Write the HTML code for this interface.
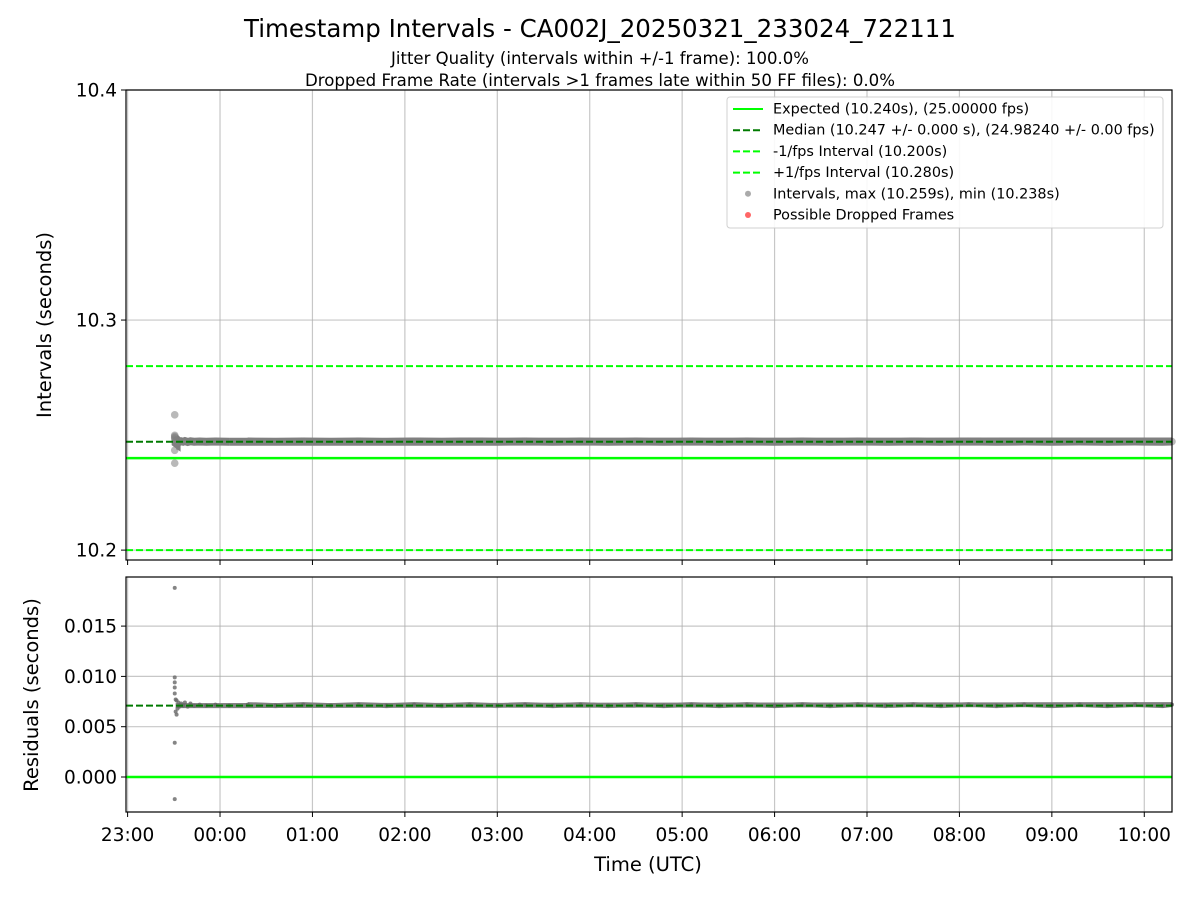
<!DOCTYPE html>
<html><head><meta charset="utf-8"><style>
body{margin:0;background:#fff;font-family:"Liberation Sans","DejaVu Sans",sans-serif}
svg text{font-family:"DejaVu Sans","Liberation Sans",sans-serif}
</style></head><body>
<svg id="c" width="1200" height="900" xmlns="http://www.w3.org/2000/svg"></svg>
<script>
const xTickLabels=["23:00","00:00","01:00","02:00","03:00","04:00","05:00","06:00","07:00","08:00","09:00","10:00"];
const topTicks=[10.2,10.3,10.4];
const botTicks=[0.000,0.005,0.010,0.015];
const expected=10.240, median=10.2471, lowLim=10.200, highLim=10.280;
// times in hours since 23:00
const earlyTimes=[0.51,0.51,0.51,0.51,0.51,0.51,0.51,0.52,0.52,0.53,0.53,0.54,0.55,0.56,0.58,0.6,0.62,0.65,0.68,0.72,0.78,0.85,0.95,1.1];
const earlyVals=[10.2588,10.2499,10.2494,10.2489,10.2483,10.2434,10.2378,10.2477,10.2465,10.2462,10.2476,10.2468,10.2474,10.2470,10.2473,10.2471,10.2474,10.2470,10.2473,10.2471,10.2472,10.2471,10.2472,10.2471];
const bandTimes=[1.3,1.6,1.9,2.2,2.5,2.8,3.1,3.4,3.7,4.0,4.3,4.6,4.9,5.2,5.5,5.8,6.1,6.4,6.7,7.0,7.3,7.6,7.9,8.2,8.5,8.8,9.1,9.4,9.7,10.0,10.3,10.6,10.9,11.2,11.3];
const bandVals=[10.2472,10.2471,10.2472,10.2471,10.2472,10.2471,10.2472,10.2471,10.2472,10.2471,10.2472,10.2471,10.2472,10.2471,10.2472,10.2471,10.2472,10.2471,10.2472,10.2471,10.2472,10.2471,10.2472,10.2471,10.2472,10.2471,10.2472,10.2471,10.2472,10.2471,10.2472,10.2471,10.2472,10.2471,10.2472];

const NS="http://www.w3.org/2000/svg", svg=document.getElementById('c');
function mk(t,a,p,name){const e=document.createElementNS(NS,t);for(const k in a)e.setAttribute(k,a[k]);


(p||svg).appendChild(e);return e;}
function txt(s,x,y,size,anchor,name,extra){const e=mk('text',Object.assign({x:x,y:y,'font-size':size,'text-anchor':anchor||'middle',fill:'#000'},extra||{}),null,name);e.textContent=s;return e;}
const L=126,R=1172;
const xmin=-0.0173,xmax=11.3;
const X=h=>L+(h-xmin)/(xmax-xmin)*(R-L);
const T0=90,T1=560,ymaxT=10.4,yminT=10.1957;
const YT=v=>T0+(ymaxT-v)/(ymaxT-yminT)*(T1-T0);
const B0=577,B1=812;
const YB=v=>777-v*10060;

txt("Timestamp Intervals - CA002J_20250321_233024_722111",600,37,24.5,'middle','chart-title');
txt("Jitter Quality (intervals within +/-1 frame): 100.0%",600,64,16.5,'middle','jitter-subtitle',{textLength:418,lengthAdjust:'spacingAndGlyphs'});
txt("Dropped Frame Rate (intervals >1 frames late within 50 FF files): 0.0%",600,86,16.5,'middle','dropped-subtitle',{textLength:590,lengthAdjust:'spacingAndGlyphs'});

function panel(y0,y1,name){
  const g=mk('g',{},null,name);
  mk('rect',{x:L,y:y0,width:R-L,height:y1-y0,fill:'#fff'},g,name+'-bg');
  xTickLabels.forEach((s,i)=>{mk('line',{x1:X(i),x2:X(i),y1:y0,y2:y1,stroke:'#b0b0b0','stroke-width':1.2,opacity:0.7},g,'x-gridline');
    mk('line',{x1:X(i),x2:X(i),y1:y1,y2:y1+5,stroke:'#000'},g,'x-tick');});
  return g;
}
const gT=panel(T0,T1,'intervals-panel');
topTicks.forEach(v=>{mk('line',{x1:L,x2:R,y1:YT(v),y2:YT(v),stroke:'#b0b0b0','stroke-width':1.2,opacity:0.7},gT,'y-gridline');
  mk('line',{x1:L-5,x2:L,y1:YT(v),y2:YT(v),stroke:'#000'},gT,'y-tick');
  txt(v.toFixed(1),L-9,YT(v)+6.5,18.5,'end','y-tick-label');});
mk('line',{x1:L,x2:R,y1:YT(highLim),y2:YT(highLim),stroke:'#00ff00','stroke-width':2,'stroke-dasharray':'7,3'},gT,'plus-fps-line');
mk('line',{x1:L,x2:R,y1:YT(lowLim),y2:YT(lowLim),stroke:'#00ff00','stroke-width':2,'stroke-dasharray':'7,3'},gT,'minus-fps-line');
mk('line',{x1:L,x2:R,y1:YT(expected),y2:YT(expected),stroke:'#00ff00','stroke-width':2.5},gT,'expected-line');
const allT=earlyTimes.concat(bandTimes), allV=earlyVals.concat(bandVals);
mk('polyline',{points:bandTimes.map((t,i)=>X(t)+','+YT(bandVals[i])).join(' ')+' '+X(earlyTimes[earlyTimes.length-1])+','+YT(median),fill:'none',stroke:'#808080','stroke-width':8},gT,'interval-band');
mk('polyline',{points:earlyTimes.slice(7).map((t,i)=>X(t)+','+YT(earlyVals[i+7])).join(' '),fill:'none',stroke:'#808080','stroke-width':8},gT,'interval-band-early');
allT.forEach((t,i)=>mk('circle',{cx:X(t),cy:YT(allV[i]),r:3.8,fill:'#808080',opacity:0.55},gT,'interval-point'));
mk('line',{x1:L,x2:R,y1:YT(median),y2:YT(median),stroke:'#007a00','stroke-width':2,'stroke-dasharray':'7,3'},gT,'median-line');
mk('rect',{x:L,y:T0,width:R-L,height:T1-T0,fill:'none',stroke:'#000','stroke-width':1.2},gT,'intervals-frame');

const gB=panel(B0,B1,'residuals-panel');
botTicks.forEach(v=>{mk('line',{x1:L,x2:R,y1:YB(v),y2:YB(v),stroke:'#b0b0b0','stroke-width':1.2,opacity:0.7},gB,'y-gridline');
  mk('line',{x1:L-5,x2:L,y1:YB(v),y2:YB(v),stroke:'#000'},gB,'y-tick');
  txt(v.toFixed(3),L-9,YB(v)+6.5,18.5,'end','y-tick-label');});
mk('line',{x1:L,x2:R,y1:YB(0),y2:YB(0),stroke:'#00ff00','stroke-width':2.5},gB,'zero-line');
mk('polyline',{points:bandTimes.map((t,i)=>X(t)+','+YB(bandVals[i]-expected)).join(' ')+' '+X(earlyTimes[7])+','+YB(median-expected),fill:'none',stroke:'#808080','stroke-width':5},gB,'residual-band');
allT.forEach((t,i)=>mk('circle',{cx:X(t),cy:YB(allV[i]-expected),r:2,fill:'#666',opacity:0.8},gB,'residual-point'));
mk('line',{x1:L,x2:R,y1:YB(median-expected),y2:YB(median-expected),stroke:'#007a00','stroke-width':2,'stroke-dasharray':'7,3'},gB,'median-residual-line');
mk('rect',{x:L,y:B0,width:R-L,height:B1-B0,fill:'none',stroke:'#000','stroke-width':1.2},gB,'residuals-frame');
xTickLabels.forEach((s,i)=>txt(s,X(i),B1+29,18.5,'middle','x-tick-label'));
txt("Time (UTC)",648,871,19.5,'middle','x-axis-title');
txt("Intervals (seconds)",51,325,19.5,'middle','y-axis-title-top',{transform:'rotate(-90 51 325)'});
txt("Residuals (seconds)",38,695,19.5,'middle','y-axis-title-bottom',{transform:'rotate(-90 38 695)'});

// legend
const lg=mk('g',{},null,'legend');
mk('rect',{x:727,y:97,width:436,height:131,rx:3,fill:'#fff',stroke:'#ccc',opacity:0.9},lg,'legend-box');
const items=[["Expected (10.240s), (25.00000 fps)",'solid','#00ff00'],["Median (10.247 +/- 0.000 s), (24.98240 +/- 0.00 fps)",'dash','#007a00'],["-1/fps Interval (10.200s)",'dash','#00ff00'],["+1/fps Interval (10.280s)",'dash','#00ff00'],["Intervals, max (10.259s), min (10.238s)",'dot','#aaa'],["Possible Dropped Frames",'dot','#ff6666']];
items.forEach((it,i)=>{const y=109+i*21.2;
  if(it[1]==='dot')mk('circle',{cx:748,cy:y,r:3,fill:it[2]},lg,'legend-marker');
  else mk('line',{x1:733,x2:763,y1:y,y2:y,stroke:it[2],'stroke-width':2,'stroke-dasharray':it[1]==='dash'?'7,3':'none'},lg,'legend-line');
  txt(it[0],773,y+4.5,14.4,'start','legend-entry');});
</script>
</body></html>
